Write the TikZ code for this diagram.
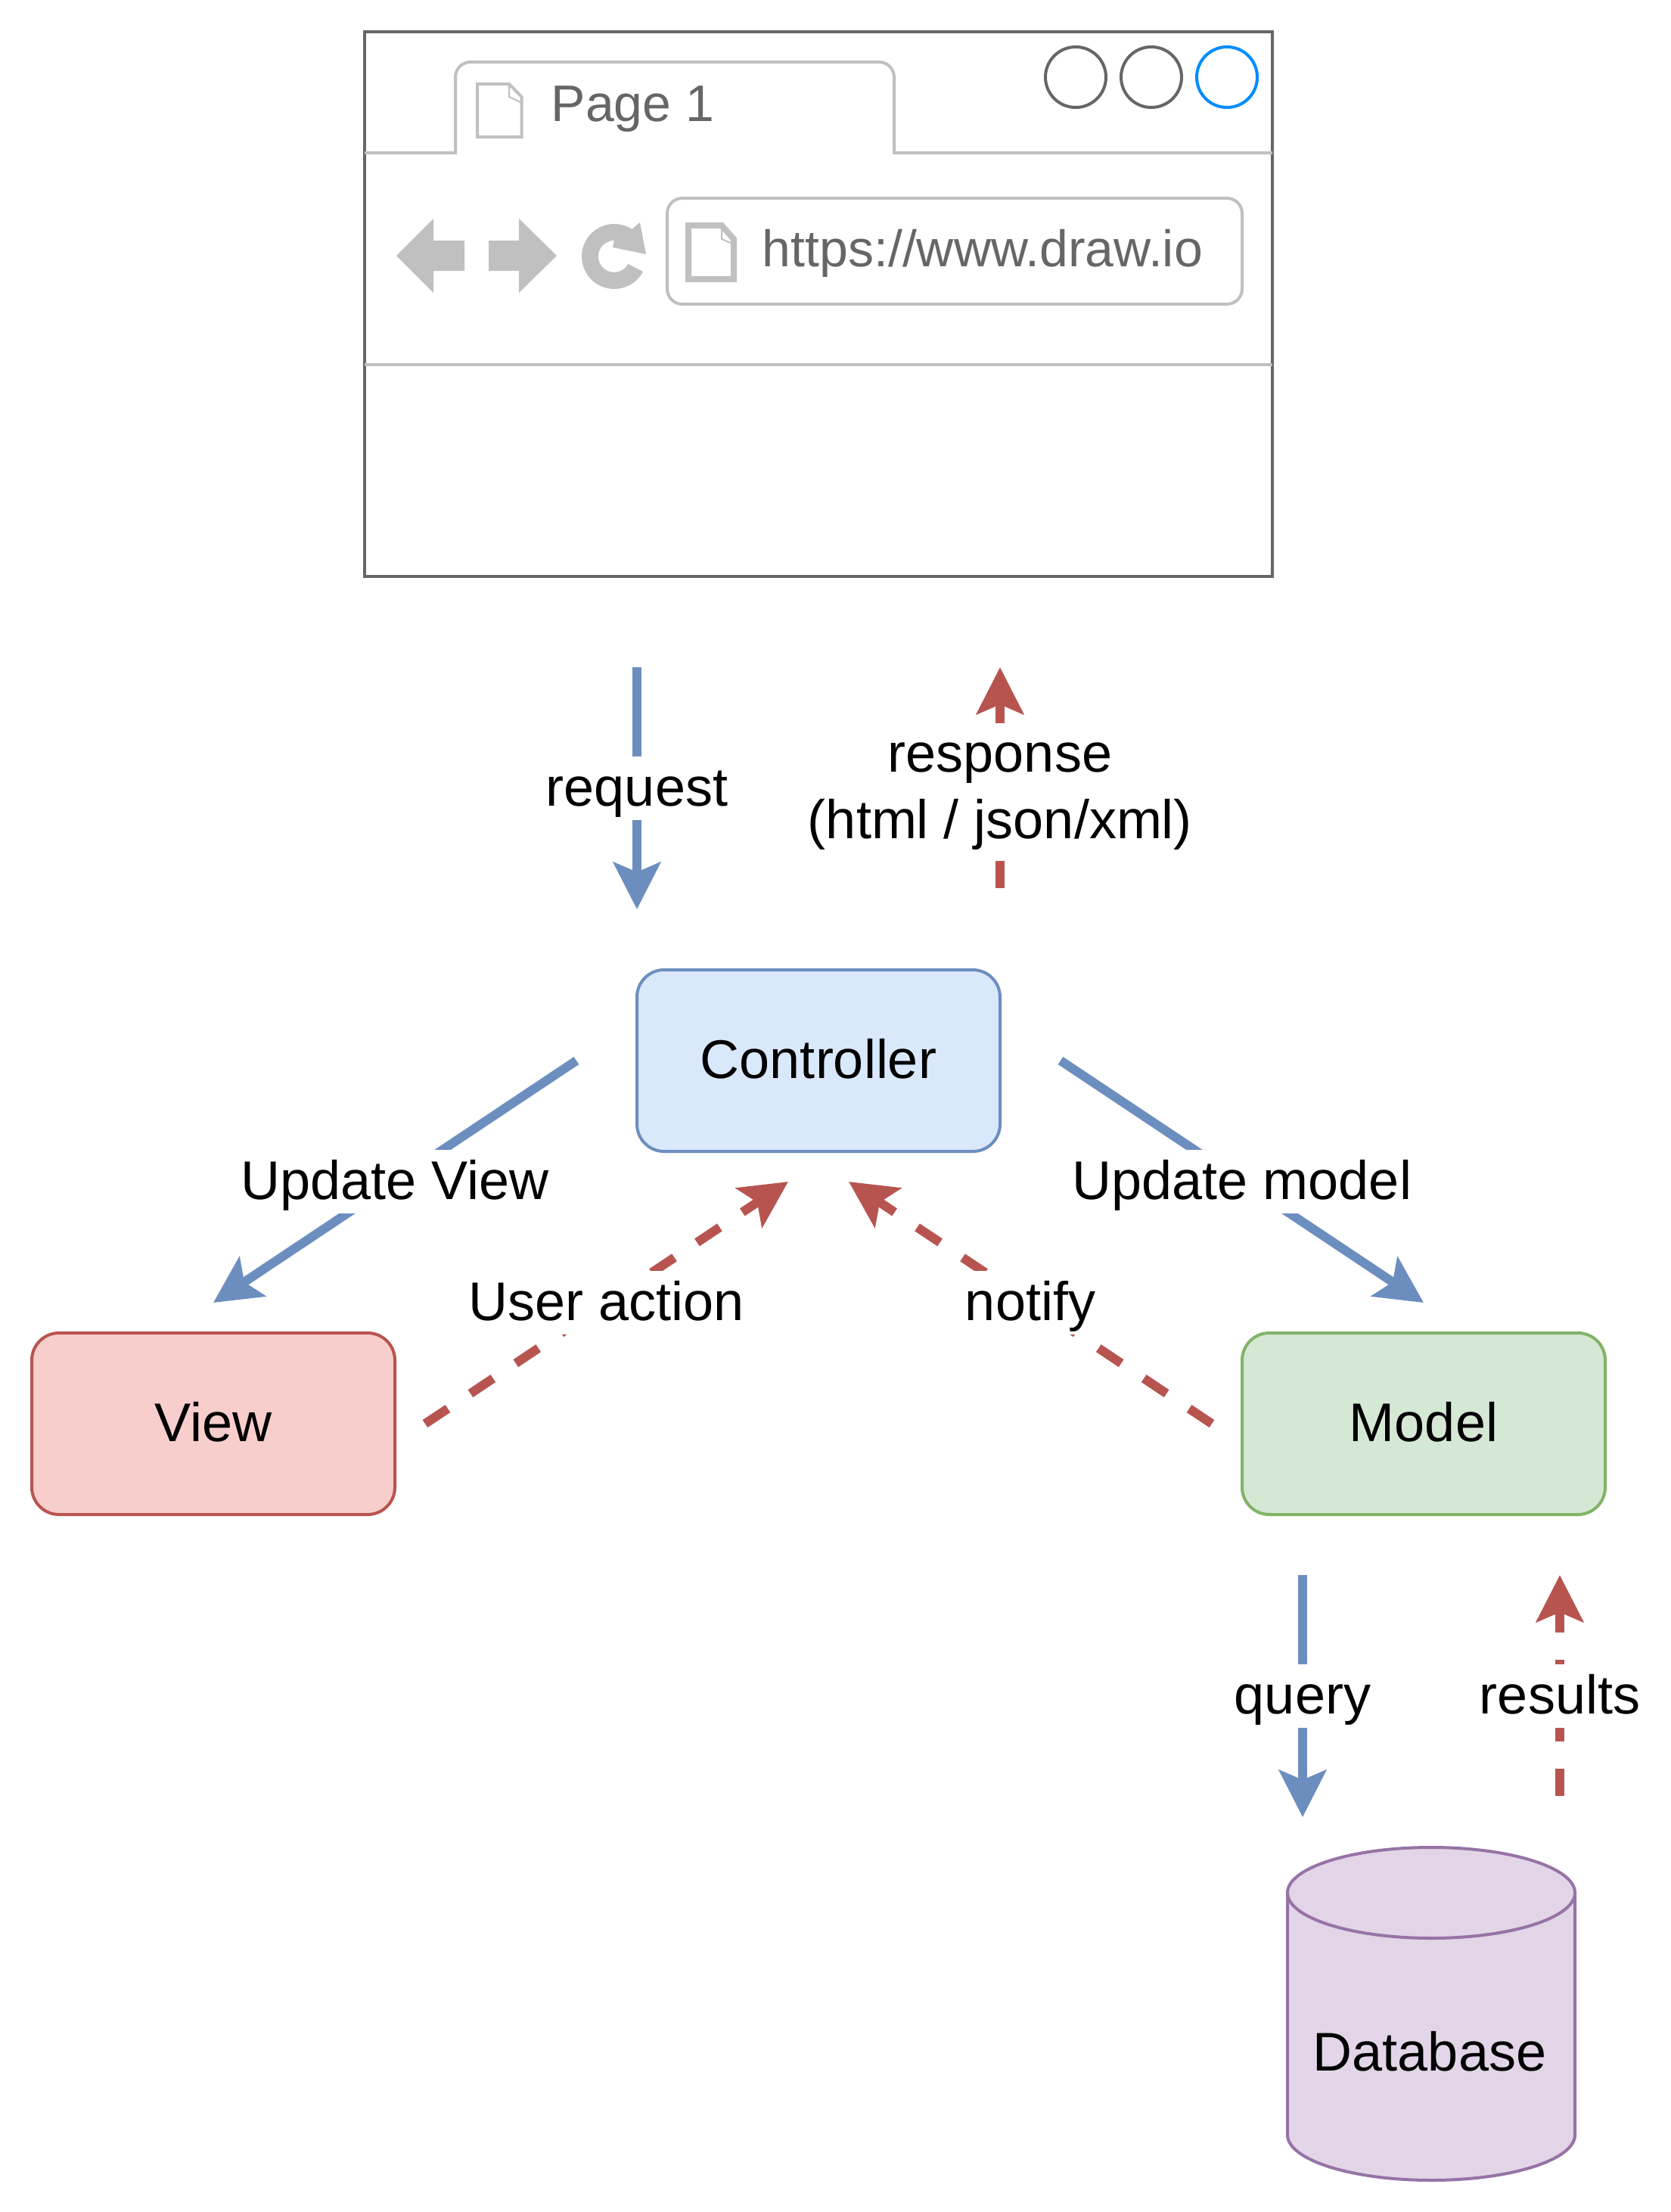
\documentclass[tikz,border=0pt]{standalone}
\usepackage{fontspec}
\setmainfont{Liberation Sans}
\usetikzlibrary{arrows.meta}

\definecolor{bluefill}{HTML}{DAE8FC}
\definecolor{blueline}{HTML}{6C8EBF}
\definecolor{redfill}{HTML}{F8CECC}
\definecolor{redline}{HTML}{B85450}
\definecolor{greenfill}{HTML}{D5E8D4}
\definecolor{greenline}{HTML}{82B366}
\definecolor{purplefill}{HTML}{E1D5E7}
\definecolor{purpleline}{HTML}{9673A6}
\definecolor{wingray}{HTML}{C0C0C0}
\definecolor{windark}{HTML}{666666}
\definecolor{winblue}{HTML}{008CFF}

\tikzset{
	txt/.style={font=\fontsize{18}{22}\selectfont,text=black,inner sep=0pt,outer sep=0pt},
	mvcbox/.style={txt,draw,rounded corners=9pt,minimum width=120pt,minimum height=60pt,line width=1pt,text height=16.25pt,text depth=4.75pt},
	lbl/.style={txt,fill=white,text height=16.25pt,text depth=4.75pt},
	reqflow/.style={draw=blueline,line width=3pt,-{Stealth[length=15.5pt,width=15.5pt,inset=3.2pt]}},
	resflow/.style={draw=redline,line width=3pt,dash pattern=on 9pt off 9pt,-{Stealth[length=15.5pt,width=15.5pt,inset=3.2pt]}},
	winline/.style={draw=wingray,line width=1pt},
	wintxt/.style={font=\fontsize{17}{20}\selectfont,text=windark,inner sep=0pt,anchor=base west},
	winbtn/.style={circle,draw=windark,line width=1pt,minimum size=20pt,inner sep=0pt}
}

\begin{document}
\begin{tikzpicture}[x=1pt,y=-1pt]
	\useasboundingbox (0,0) rectangle (552,731);

	%Browser
	\node[draw=windark,line width=1pt,minimum width=300pt,minimum height=180pt,inner sep=0pt] (browser) at (270.5,100.5) {};
	\draw[winline] (120.5,50.5) -- (150.5,50.5) -- (150.5,25.5) arc[start angle=180,end angle=90,radius=5pt] -- (290.5,20.5) arc[start angle=90,end angle=0,radius=5pt] -- (295.5,50.5) -- (420.5,50.5);
	\draw[winline] (120.5,120.5) -- (420.5,120.5);
	\foreach \cx/\nm in {355.5/btnA, 380.5/btnB}
		\node[winbtn] (\nm) at (\cx,25.5) {};
	\node[winbtn,draw=winblue] (btnC) at (405.5,25.5) {};

	%Tab
	\draw[winline] (157.75,27.75) -- (168.25,27.75) -- (172.4,32) -- (172.4,45.25) -- (157.75,45.25) -- cycle;
	\draw[draw=wingray,line width=0.5pt] (168.25,27.75) -- (168.25,32) -- (172.4,34);
	\node[wintxt] (pagetxt) at (182,40) {Page 1};

	%Navigation
	\fill[wingray] (131,84.5) -- (143.25,72.25) -- (143.25,79.5) -- (153.5,79.5) -- (153.5,89.5) -- (143.25,89.5) -- (143.25,96.75) -- cycle;
	\fill[wingray] (184,84.5) -- (171.5,72.25) -- (171.5,79.5) -- (161.5,79.5) -- (161.5,89.5) -- (171.5,89.5) -- (171.5,96.75) -- cycle;
	\fill[wingray] (208.86,75.73) arc[start angle=57,end angle=332,radius=10.75pt] -- (207.6,87.2) arc[start angle=332,end angle=90,radius=5.25pt] -- (202.5,81.75) -- (213.5,84) -- (211.5,73.5) -- cycle;

	%Adressleiste
	\node[winline,rounded corners=5pt,minimum width=190pt,minimum height=35pt,inner sep=0pt] (urlbox) at (315.5,83) {};
	\draw[draw=wingray,line width=2pt] (227.5,74.5) -- (238.5,74.5) -- (242.5,79) -- (242.5,92.25) -- (227.5,92.25) -- cycle;
	\draw[draw=wingray,line width=0.5pt] (238.5,75.5) -- (238.5,79) -- (242,80.5);
	\node[wintxt] (urltxt) at (251.75,88) {https://www.draw.io};

	%Boxen
	\node[mvcbox,draw=blueline,fill=bluefill] (controller) at (270.5,350.5) {Controller};
	\node[mvcbox,draw=redline,fill=redfill] (view) at (70.5,470.5) {View};
	\node[mvcbox,draw=greenline,fill=greenfill] (model) at (470.5,470.5) {Model};

	%Datenbank
	\draw[draw=purpleline,fill=purplefill,line width=1pt] (425.5,625.5) arc[start angle=180,end angle=0,x radius=47.5pt,y radius=15pt] -- (520.5,705.5) arc[start angle=0,end angle=-180,x radius=47.5pt,y radius=15pt] -- cycle;
	\draw[draw=purpleline,line width=1pt] (425.5,625.5) arc[start angle=180,end angle=360,x radius=47.5pt,y radius=15pt];
	\node[txt,text height=16.25pt,text depth=4.75pt] (database) at (472.5,678.5) {Database};

	%Endpunkte
	\coordinate (reqA) at (210.5,220.5);
	\coordinate (reqB) at (210.5,300.5);
	\coordinate (resA) at (330.5,293.5);
	\coordinate (resB) at (330.5,220.5);
	\coordinate (upvA) at (190.5,350.5);
	\coordinate (upvB) at (70.5,430.5);
	\coordinate (usrA) at (140.5,470.5);
	\coordinate (usrB) at (260.5,390.5);
	\coordinate (upmA) at (350.5,350.5);
	\coordinate (upmB) at (470.5,430.5);
	\coordinate (notA) at (400.5,470.5);
	\coordinate (notB) at (280.5,390.5);
	\coordinate (qryA) at (430.5,520.5);
	\coordinate (qryB) at (430.5,600.5);
	\coordinate (rltA) at (515.5,593.5);
	\coordinate (rltB) at (515.5,520.5);

	%Pfeile
	\draw[reqflow] (reqA) -- (reqB) node[lbl,midway] (reqlbl) {request};
	\draw[resflow] (resA) -- (resB) node[txt,fill=white,align=center,pos=0.435] (reslbl) {\rule{0pt}{16.25pt}response\\(html / json/xml)\rule[-7.25pt]{0pt}{7.25pt}};
	\draw[reqflow] (upvA) -- (upvB) node[lbl,midway] (upvlbl) {Update View};
	\draw[resflow] (usrA) -- (usrB) node[lbl,midway] (usrlbl) {User action};
	\draw[reqflow] (upmA) -- (upmB) node[lbl,midway] (upmlbl) {Update model};
	\draw[resflow] (notA) -- (notB) node[lbl,midway] (notlbl) {notify};
	\draw[reqflow] (qryA) -- (qryB) node[lbl,midway] (qrylbl) {query};
	\draw[resflow] (rltA) -- (rltB) node[lbl,pos=0.452] (rltlbl) {results};
\end{tikzpicture}
\end{document}
